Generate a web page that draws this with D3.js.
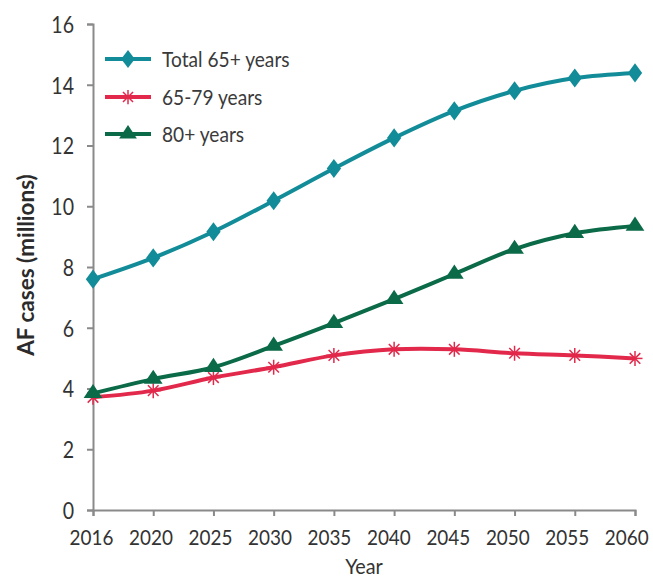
<!DOCTYPE html>
<html><head><meta charset="utf-8">
<script src="https://cdn.jsdelivr.net/npm/d3@7"></script>
<style>body{margin:0;background:#fff;} svg{display:block;}</style>
</head><body>
<svg id="chart" width="653" height="580"></svg>
<script>
const years = ["2016","2020","2025","2030","2035","2040","2045","2050","2055","2060"];
const total65 = [7.6, 8.3, 9.16, 10.18, 11.24, 12.25, 13.14, 13.8, 14.22, 14.39];
const age65to79 = [3.71, 3.93, 4.36, 4.7, 5.09, 5.29, 5.29, 5.16, 5.09, 4.99];
const age80plus = [3.84, 4.31, 4.7, 5.4, 6.15, 6.94, 7.77, 8.59, 9.11, 9.35];
const yTicks = [0, 2, 4, 6, 8, 10, 12, 14, 16];
const seriesNames = ["Total 65+ years", "65-79 years", "80+ years"];
const seriesColors = ["#128C98", "#E2294B", "#0B6A48"];
const seriesMarkers = ["diamond", "asterisk", "triangle"];

const series = [total65, age65to79, age80plus].map((v, i) => ({
  name: seriesNames[i], color: seriesColors[i], marker: seriesMarkers[i], values: v
}));

const svg = d3.select("#chart");
const font = "Lato, 'Open Sans', sans-serif";
const textColor = "#333";
const x = d3.scalePoint().domain(years).range([93, 635]);
const y = d3.scaleLinear().domain([0, 16]).range([510, 24]);
const axisColor = "#8a8a8a";

// condense text horizontally to mimic a narrow humanist font
function condense(sel, k) {
  sel.each(function () {
    const w = this.getComputedTextLength();
    d3.select(this).attr("textLength", w * k).attr("lengthAdjust", "spacingAndGlyphs");
  });
}

const gx = svg.append("g").attr("transform", "translate(0,510)")
  .call(d3.axisBottom(x).tickSizeOuter(0).tickSize(6));
const gy = svg.append("g").attr("transform", "translate(93,0)")
  .call(d3.axisLeft(y).tickValues(yTicks).tickSizeOuter(0).tickSize(6));
[gx, gy].forEach(g => {
  g.select(".domain").attr("stroke", axisColor).attr("stroke-width", 2);
  g.selectAll(".tick line").attr("stroke", axisColor).attr("stroke-width", 2);
  g.selectAll(".tick text").attr("fill", textColor).style("font-family", font).style("font-size", "23px");
});
// x tick labels: horizontally condensed via transform; in the reference they drift slightly left of their ticks toward the right end
const kx = 0.86;
gx.selectAll(".tick text").style("font-size", "22px")
  .attr("y", 35).attr("dy", 0)
  .attr("x", (d, i) => (-2 - 0.75 * i) / kx)
  .attr("transform", `scale(${kx},1)`);
gy.selectAll(".tick text").attr("x", -19).attr("dy", "0.36em");
condense(gy.selectAll(".tick text"), 0.85);

const xl = svg.append("text").attr("x", 364).attr("y", 574).attr("text-anchor", "middle")
  .style("font-family", font).style("font-size", "22px").attr("fill", textColor).text("Year");
condense(xl, 0.9);
const yl = svg.append("text").attr("transform", "translate(34,265) rotate(-90)").attr("text-anchor", "middle")
  .style("font-family", font).style("font-size", "22.5px").style("font-weight", "bold")
  .attr("fill", "#2b2b2b").text("AF cases (millions)");

const line = d3.line().x((d, i) => x(years[i])).y(d => y(d)).curve(d3.curveCatmullRom.alpha(0.5));

function drawMarker(g, type, cx, cy, color, s = 1) {
  if (type === "diamond") {
    g.append("path").attr("d", d3.symbol().type(d3.symbolDiamond).size(105 * s * s)())
      .attr("transform", `translate(${cx},${cy}) scale(1.3,1)`).attr("fill", color);
  } else if (type === "triangle") {
    g.append("path").attr("d", d3.symbol().type(d3.symbolTriangle).size(115 * s * s)())
      .attr("transform", `translate(${cx},${cy}) scale(1.15,1)`).attr("fill", color);
  } else {
    const r = 7.5 * s;
    const gg = g.append("g").attr("transform", `translate(${cx},${cy})`)
      .attr("stroke", color).attr("stroke-width", 1.5);
    [0, 45, 90, 135].forEach(a => {
      const t = a * Math.PI / 180;
      gg.append("line").attr("x1", -r * Math.cos(t)).attr("y1", -r * Math.sin(t))
        .attr("x2", r * Math.cos(t)).attr("y2", r * Math.sin(t));
    });
  }
}

// draw in order: red, green, teal
[series[1], series[2], series[0]].forEach(s => {
  const g = svg.append("g");
  g.append("path").datum(s.values).attr("d", line).attr("fill", "none")
    .attr("stroke", s.color).attr("stroke-width", 4);
  s.values.forEach((v, i) => drawMarker(g, s.marker, x(years[i]), y(v), s.color));
});

// legend
const legendY = [59, 97, 134];
series.forEach((s, i) => {
  const g = svg.append("g");
  g.append("line").attr("x1", 105).attr("x2", 151).attr("y1", legendY[i]).attr("y2", legendY[i])
    .attr("stroke", s.color).attr("stroke-width", 4);
  drawMarker(g, s.marker, 128, legendY[i], s.color, 0.95);
  const t = g.append("text").attr("x", 162).attr("y", legendY[i]).attr("dy", "0.36em")
    .style("font-family", font).style("font-size", "22px").attr("fill", "#3a3a3a").text(s.name);
  condense(t, 0.87);
});
</script>
</body></html>
